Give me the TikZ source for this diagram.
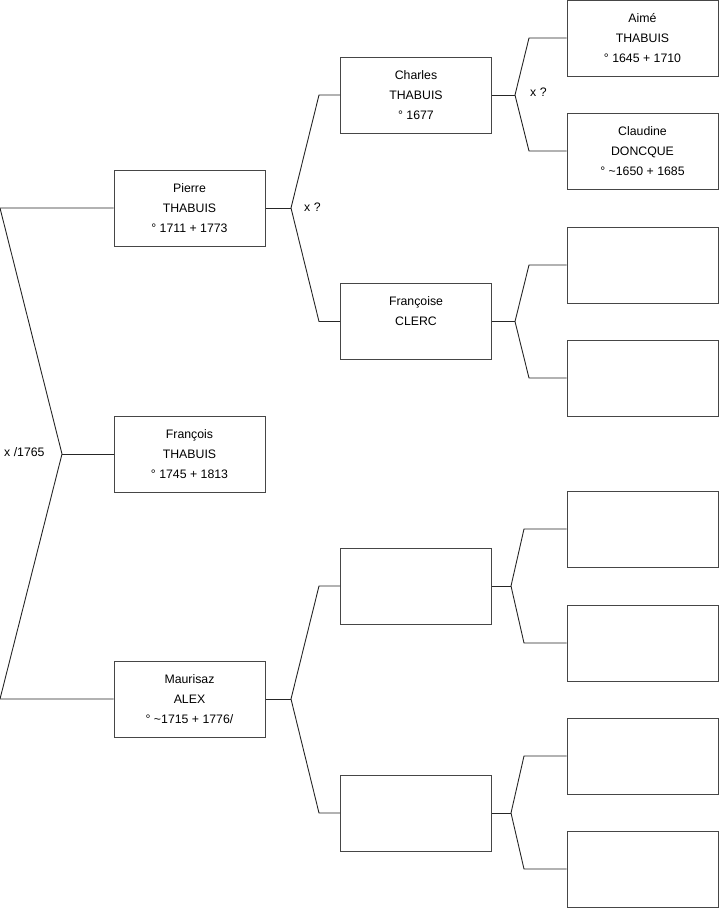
\documentclass[tikz,border=0pt]{standalone}
\usepackage{fontspec}
\setmainfont{Liberation Sans}
\usepackage{tikz}
\usetikzlibrary{positioning,calc}
\definecolor{boxline}{RGB}{70,70,70}

\begin{document}
\begin{tikzpicture}[x=1pt, y=-1pt,
  person/.style={draw=boxline, line width=1pt, fill=white, minimum width=151pt, minimum height=76pt, inner sep=0pt, align=center, font=\fontsize{12.3}{20}\selectfont},
  link/.style={draw=black!85, line width=0.9pt},
  marr/.style={font=\fontsize{12.3}{14}\selectfont, anchor=west, inner sep=0pt},
]
\useasboundingbox (0,0) rectangle (719,908);

% generation 1
\node[person] (pierre)   at (189.5,208) {Pierre\\THABUIS\\\textdegree{} 1711 + 1773};
\node[person] (francois) at (189.5,454) {François\\THABUIS\\\textdegree{} 1745 + 1813};
\node[person] (maurisaz) at (189.5,699) {Maurisaz\\ALEX\\\textdegree{} \textasciitilde1715 + 1776/};

% generation 2
\node[person] (charles)   at (416,95)    {Charles\\THABUIS\\\textdegree{} 1677};
\node[person] (francoise) at (416,321.5) {Françoise\\CLERC\\\mbox{}};
\node[person] (mfather)   at (416,586)   {};
\node[person] (mmother)   at (416,813)   {};

% generation 3
\node[person] (aime)     at (642.5,38)  {Aimé\\THABUIS\\\textdegree{} 1645 + 1710};
\node[person] (claudine) at (642.5,151) {Claudine\\DONCQUE\\\textdegree{} \textasciitilde1650 + 1685};
\node[person] (ffather)  at (642.5,265) {};
\node[person] (fmother)  at (642.5,378) {};
\node[person] (mff)      at (642.5,529) {};
\node[person] (mfm)      at (642.5,643) {};
\node[person] (mmf)      at (642.5,756) {};
\node[person] (mmm)      at (642.5,869) {};

% forks
\coordinate (rootjoin) at (62,454);
\coordinate (roottop)  at (0,208);
\coordinate (rootbot)  at (0,699);
\draw[link] (pierre.west) -- (roottop) -- (rootjoin) -- (rootbot) -- (maurisaz.west);
\draw[link] (rootjoin) -- (francois.west);
\node[marr] (rootlbl) at (4,452) {x /1765};

\coordinate (pjoin) at (291,208);
\draw[link] (pierre.east) -- (pjoin);
\draw[link] (pjoin) -- (319,95) -- (charles.west);
\draw[link] (pjoin) -- (319,321.5) -- (francoise.west);
\node[marr] (plbl) at (304,207) {x ?};

\coordinate (mjoin) at (291,699);
\draw[link] (maurisaz.east) -- (mjoin);
\draw[link] (mjoin) -- (319,586) -- (mfather.west);
\draw[link] (mjoin) -- (319,813) -- (mmother.west);

\coordinate (cjoin) at (515,95);
\draw[link] (charles.east) -- (cjoin);
\draw[link] (cjoin) -- (529,38) -- (aime.west);
\draw[link] (cjoin) -- (529,151) -- (claudine.west);
\node[marr] (clbl) at (530,92) {x ?};

\coordinate (fjoin) at (515,321.5);
\draw[link] (francoise.east) -- (fjoin);
\draw[link] (fjoin) -- (529,265) -- (ffather.west);
\draw[link] (fjoin) -- (529,378) -- (fmother.west);

\coordinate (mfjoin) at (511,586);
\draw[link] (mfather.east) -- (mfjoin);
\draw[link] (mfjoin) -- (524,529) -- (mff.west);
\draw[link] (mfjoin) -- (524,643) -- (mfm.west);

\coordinate (mmjoin) at (511,813);
\draw[link] (mmother.east) -- (mmjoin);
\draw[link] (mmjoin) -- (524,756) -- (mmf.west);
\draw[link] (mmjoin) -- (524,869) -- (mmm.west);

\end{tikzpicture}
\end{document}
